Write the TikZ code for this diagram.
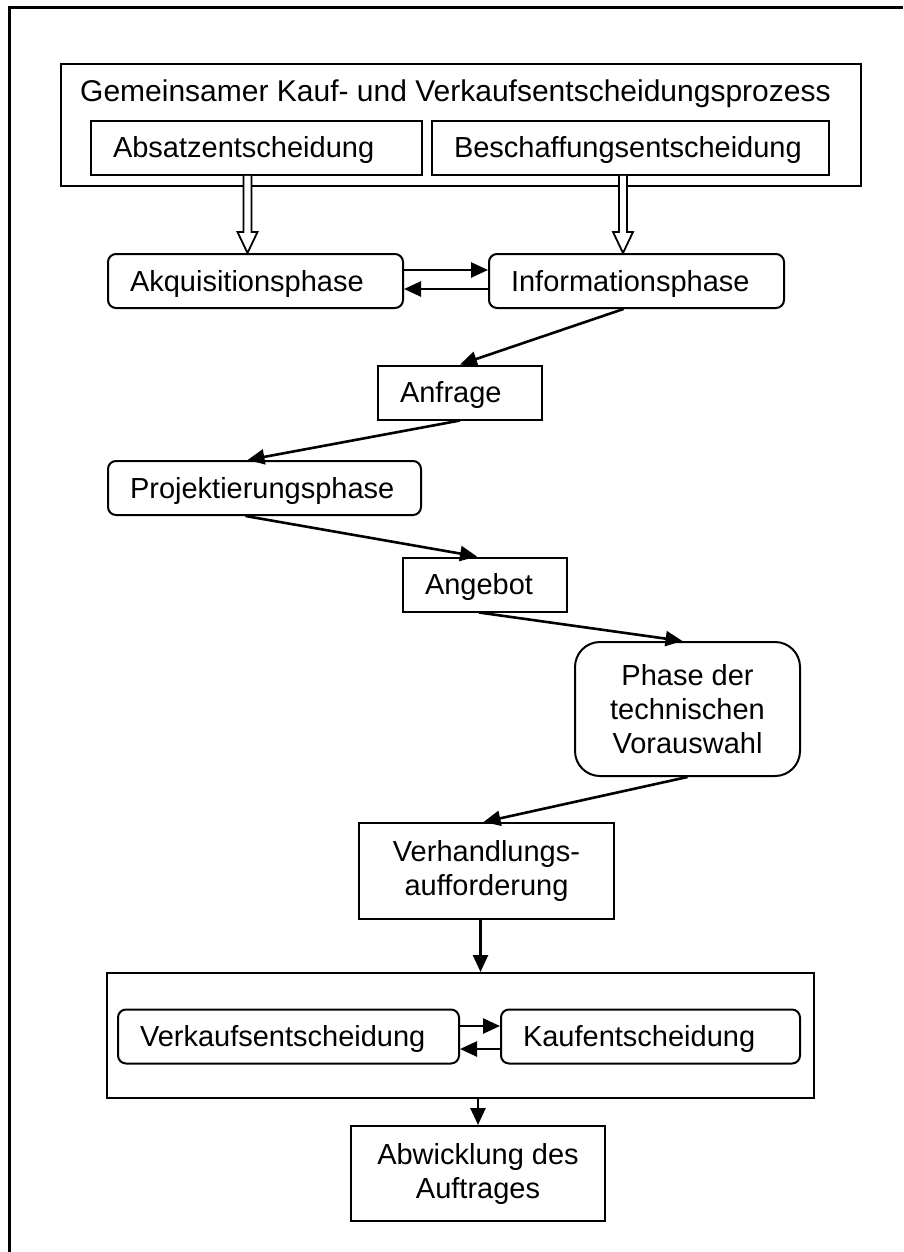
\documentclass[tikz,border=0pt]{standalone}
\usepackage{fontspec}
\setmainfont{Liberation Sans}
\usetikzlibrary{arrows.meta,calc}
\hyphenpenalty=10000

\begin{document}
\begin{tikzpicture}[x=1pt, y=-1pt,
  >={Triangle[length=17pt,width=15pt]},
  every node/.style={font=\fontsize{29}{34}\selectfont},
  kasten/.style={draw, line width=2pt, align=left, inner xsep=22pt, inner ysep=0pt,
    text height=26pt, text depth=6pt, minimum height=54pt},
  phase/.style={kasten, rounded corners=8pt},
  mehrzeilig/.style={draw, line width=2pt, align=center, inner sep=0pt},
  rahmen/.style={draw, line width=2pt, inner sep=0pt},
  pfeil/.style={line width=2.6pt, ->},
  hohlpfeil/.style={line width=1.8pt, fill=white}]

\useasboundingbox (0,0) rectangle (903,1252);

% Page frame (only top and left edge visible)
\draw[line width=3pt] (903,8) -| (9,1252);

% Joint decision process (top)
\node[rahmen, minimum width=800pt, minimum height=122pt] (prozess) at (461,125) {};
\node[anchor=base west, inner sep=0pt, font=\fontsize{30}{34}\selectfont] (titel)
  at ([xshift=20pt, yshift=-39pt]prozess.north west)
  {Gemeinsamer Kauf- und Verkaufsentscheidungsprozess};
\node[kasten, text width=287pt] (absatz)   at (256.5,148) {Absatzentscheidung};
\node[kasten, text width=353pt] (beschaff) at (630.5,148) {Beschaffungsentscheidung};

% Phases
\node[phase, text width=251pt] (akq)     at (255.5,281) {Akquisitionsphase};
\node[phase, text width=251pt] (info)    at (636.5,281) {Informationsphase};
\node[kasten, text width=120pt] (anfrage) at (460,392.5) {Anfrage};
\node[phase, text width=269pt] (projekt) at (264.5,488) {Projektierungsphase};
\node[kasten, text width=120pt] (angebot) at (485,584.5) {Angebot};
\node[mehrzeilig, rounded corners=25pt, minimum width=225pt, minimum height=134pt]
  (vorauswahl) at (687.5,709) {Phase der\\technischen\\Vorauswahl};
\node[mehrzeilig, minimum width=255pt, minimum height=96pt]
  (verhandl) at (486.5,871) {Verhandlungs-\\aufforderung};

% Joint decision (bottom)
\node[rahmen, minimum width=707pt, minimum height=125pt] (entscheid) at (460.5,1035.5) {};
\node[phase, text width=297pt] (verkauf) at (288.5,1036.5) {Verkaufsentscheidung};
\node[phase, text width=255pt] (kauf)    at (650.5,1036.5) {Kaufentscheidung};
\node[mehrzeilig, minimum width=254pt, minimum height=95pt]
  (abwicklung) at (478,1173.5) {Abwicklung des\\Auftrages};

% Hollow arrows
\draw[hohlpfeil] let \p1=([xshift=-9pt]absatz.south), \p2=([xshift=-8pt]akq.north) in
  (\x1-4pt,\y1) -- (\x1-4pt,\y2+21pt) -- (\x1-10pt,\y2+21pt) -- (\x1,\y2)
  -- (\x1+10pt,\y2+21pt) -- (\x1+4pt,\y2+21pt) -- (\x1+4pt,\y1);
\draw[hohlpfeil] let \p1=([xshift=-7.5pt]beschaff.south), \p2=([xshift=-13.5pt]info.north) in
  (\x1-4pt,\y1) -- (\x1-4pt,\y2+21pt) -- (\x1-10pt,\y2+21pt) -- (\x1,\y2)
  -- (\x1+10pt,\y2+21pt) -- (\x1+4pt,\y2+21pt) -- (\x1+4pt,\y1);

% Arrows between the phases
\draw[pfeil] ([yshift=11pt]akq.east) -- ([yshift=11pt]info.west);
\draw[pfeil] ([yshift=-8pt]info.west) -- ([yshift=-8pt]akq.east);
\draw[pfeil] ([xshift=-13pt]info.south) -- (anfrage.north);
\draw[pfeil] (anfrage.south) -- ([xshift=-17pt]projekt.north);
\draw[pfeil] ([xshift=-19pt]projekt.south) -- ([xshift=-8pt]angebot.north);
\draw[pfeil] ([xshift=-6pt]angebot.south) -- ([xshift=-5pt]vorauswahl.north);
\draw[pfeil] (vorauswahl.south) -- ([xshift=-3pt]verhandl.north);
\draw[pfeil] ([xshift=-6pt]verhandl.south) -- ([xshift=-6pt]verhandl.south |- entscheid.north);
\draw[pfeil] ([yshift=10.5pt]verkauf.east) -- ([yshift=10.5pt]kauf.west);
\draw[pfeil] ([yshift=-12.5pt]kauf.west) -- ([yshift=-12.5pt]verkauf.east);
\draw[pfeil] (abwicklung.north |- entscheid.south) -- (abwicklung.north);

\end{tikzpicture}
\end{document}
